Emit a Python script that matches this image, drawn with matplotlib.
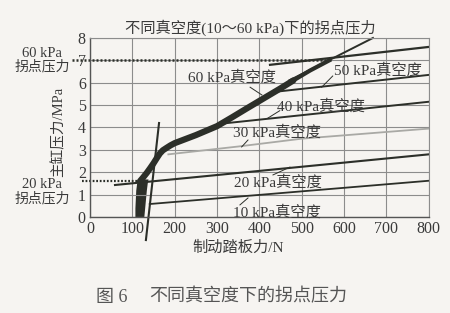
import numpy as np
import matplotlib.pyplot as plt

plt.rcParams['font.family'] = ['Liberation Serif', 'Noto Sans CJK SC']

# heavy measured curve (60 kPa run, overlays the rest)
main_x = [118, 126, 134, 142, 150, 158, 165, 172, 180, 190, 200, 225, 250, 275, 300, 335, 370, 410, 450, 480]
main_y = [1.6, 1.78, 1.97, 2.18, 2.4, 2.64, 2.84, 2.98, 3.08, 3.2, 3.3, 3.48, 3.66, 3.86, 4.06, 4.45, 4.85, 5.3, 5.75, 6.1]
main2_x = [480, 520, 565]
main2_y = [6.1, 6.55, 7.0]
tan60_x = [470, 668]
tan60_y = [6.1, 8.0]

# vertical cluster near the knee start
clus_y = [0, 0.4, 0.8, 1.2, 1.5, 1.7]
clus_l = [106, 106, 107, 108, 110, 116]
clus_r = [127, 129, 131, 133, 135, 137]

steep_x = [132, 163]
steep_y = [-1.03, 4.2]

# saturated branches for each vacuum level
v60_x = [425, 800]; v60_y = [6.8, 7.6]
v50_x = [440, 800]; v50_y = [5.6, 6.35]
v40_x = [300, 800]; v40_y = [4.15, 5.15]
v30_x = [185, 350, 500, 800]; v30_y = [2.8, 3.15, 3.5, 3.95]
v20_x = [59, 800]; v20_y = [1.43, 2.8]
v10_x = [141, 800]; v10_y = [0.58, 1.62]

knee60 = 7.0
knee20 = 1.62

labels = ['60 kPa真空度', '50 kPa真空度', '40 kPa真空度', '30 kPa真空度', '20 kPa真空度', '10 kPa真空度']
lab_xy = [(335, 6.25), (679, 6.55), (545, 4.96), (441, 3.8), (444, 1.56), (441, 0.22)]
lead = [((378, 5.8), (406, 5.45)), ((573, 6.3), (547, 5.8)), ((448, 4.75), (420, 4.42)),
        ((373, 3.44), (358, 3.13)), ((472, 2.23), (432, 1.88)), ((373, 0.85), (354, 0.54))]

ink = '#2c2f29'
txt = '#3a3a3a'
bg = '#f6f4f1'

fig = plt.figure(figsize=(4.5, 3.13), dpi=100, facecolor=bg)
ax = fig.add_axes([0.2, 0.3067, 0.753, 0.572], facecolor=bg)

ax.set_xlim(0, 800)
ax.set_ylim(0, 8)
ax.set_xticks(np.arange(0, 801, 100))
ax.set_yticks(np.arange(0, 9, 1))
ax.grid(True, color='#8c8c8c', lw=0.8)
ax.tick_params(length=0, labelsize=11.5, colors=txt, pad=3)
for s in ['top', 'right']:
    ax.spines[s].set_color('#8c8c8c')
    ax.spines[s].set_linewidth(0.8)
for s in ['left', 'bottom']:
    ax.spines[s].set_color('#555555')
    ax.spines[s].set_linewidth(1.0)

# saturated lines
ax.plot(v60_x, v60_y, color=ink, lw=1.6)
ax.plot(v50_x, v50_y, color=ink, lw=1.4)
ax.plot(v40_x, v40_y, color=ink, lw=1.4)
ax.plot(v30_x, v30_y, color='#a9a9a5', lw=1.3)
ax.plot(v20_x, v20_y, color=ink, lw=1.5)
ax.plot(v10_x, v10_y, color=ink, lw=1.3)

# heavy data
ax.fill_betweenx(clus_y, clus_l, clus_r, color=ink, lw=0)
ax.plot(main_x, main_y, color=ink, lw=4.5, solid_capstyle='round', solid_joinstyle='round')
ax.plot(main2_x, main2_y, color=ink, lw=3.0)
ax.plot(tan60_x, tan60_y, color=ink, lw=1.4, clip_on=False)
ax.plot(steep_x, steep_y, color=ink, lw=1.5, clip_on=False)

# knee pressure dotted lines
ax.plot([-42, 565], [knee60, knee60], color=ink, lw=1.8, ls=(0, (0.8, 0.8)), clip_on=False)
ax.plot([-19, 118], [knee20, knee20], color=ink, lw=1.6, ls=(0, (0.8, 0.8)), clip_on=False)

for t, (x, y), (p0, p1) in zip(labels, lab_xy, lead):
    ax.text(x, y, t, ha='center', va='center', fontsize=11, color=txt)
    ax.plot([p0[0], p1[0]], [p0[1], p1[1]], color=ink, lw=0.7)

fig.text(0.556, 0.91, '不同真空度(10～60 kPa)下的拐点压力', ha='center', va='center', fontsize=11, color=txt)
fig.text(0.093, 0.83, '60 kPa', ha='center', va='center', fontsize=10.5, color=txt)
fig.text(0.093, 0.786, '拐点压力', ha='center', va='center', fontsize=10, color=txt)
fig.text(0.093, 0.409, '20 kPa', ha='center', va='center', fontsize=10.5, color=txt)
fig.text(0.093, 0.364, '拐点压力', ha='center', va='center', fontsize=10, color=txt)
fig.text(0.129, 0.58, '主缸压力/MPa', ha='center', va='center', rotation=90, fontsize=10.5, color=txt)
fig.text(0.529, 0.208, '制动踏板力/N', ha='center', va='center', fontsize=11, color=txt)
fig.text(0.249, 0.051, '图 6', ha='center', va='center', fontsize=13, color='#555555')
fig.text(0.551, 0.051, '不同真空度下的拐点压力', ha='center', va='center', fontsize=13, color='#555555')

fig.savefig('out.png', dpi=100, facecolor=bg)
